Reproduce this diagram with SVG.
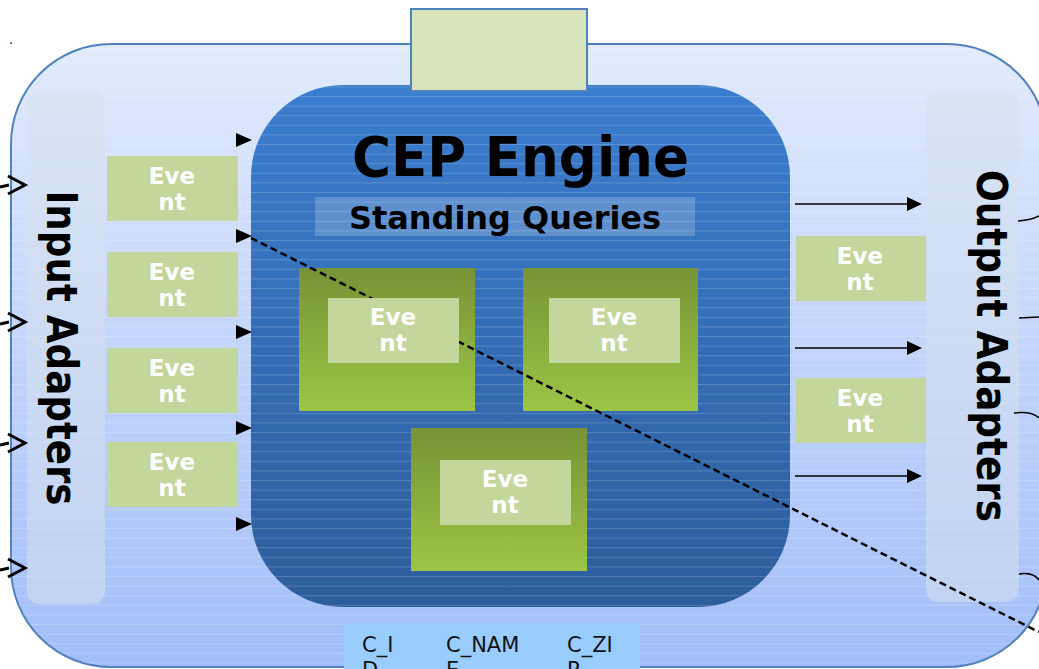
<svg xmlns="http://www.w3.org/2000/svg" width="1039" height="669" viewBox="0 0 1039 669">
<style>
.ev{fill:#c3d69b}
.evt{font-family:"DejaVu Sans","Liberation Sans",sans-serif;font-weight:bold;font-size:23px;fill:#ffffff;text-anchor:middle}
.big{font-family:"DejaVu Sans","Liberation Sans",sans-serif;font-weight:bold;fill:#000}
.tbl{font-family:"DejaVu Sans","Liberation Sans",sans-serif;font-size:21px;fill:#111}
.panel{fill:#d6e0ec;fill-opacity:0.55}
.qbox{fill:url(#gq)}
.arr{stroke:#000;stroke-width:1.5;fill:none}
.head{fill:#000}
.chev{stroke:#000;stroke-width:3;fill:none}
</style>
<defs>
<linearGradient id="gOuter" x1="0" y1="44" x2="0" y2="668" gradientUnits="userSpaceOnUse">
<stop offset="0" stop-color="#e2ebfd"/>
<stop offset="1" stop-color="#a2bef9"/>
</linearGradient>
<linearGradient id="gCep" x1="0" y1="85" x2="0" y2="607" gradientUnits="userSpaceOnUse">
<stop offset="0" stop-color="#3b7dcf"/>
<stop offset="1" stop-color="#2d5d9b"/>
</linearGradient>
<linearGradient id="gq" x1="0" y1="0" x2="0" y2="1">
<stop offset="0" stop-color="#769336"/>
<stop offset="1" stop-color="#9cc545"/>
</linearGradient>
<pattern id="stripes" patternUnits="userSpaceOnUse" width="20" height="9.6">
<rect x="0" y="0" width="20" height="1" fill="#ffffff" fill-opacity="0.18"/>
</pattern>
</defs>

<g id="outer-container">
<rect x="11" y="44" width="1036" height="623" rx="100" fill="url(#gOuter)" stroke="#4f81bd" stroke-width="2"/>
<rect x="11" y="44" width="1036" height="623" rx="100" fill="url(#stripes)"/>
<rect x="10" y="42" width="2" height="2" fill="#4f81bd"/>
</g>

<g id="input-adapters">
<rect class="panel" x="27" y="92" width="78" height="512" rx="12"/>
<text class="big" font-size="42" text-anchor="middle" textLength="315" lengthAdjust="spacingAndGlyphs" transform="translate(47,348) rotate(90)">Input Adapters</text>
</g>

<g id="output-adapters">
<rect class="panel" x="926" y="92" width="93" height="510" rx="12"/>
<text class="big" font-size="42" text-anchor="middle" textLength="352" lengthAdjust="spacingAndGlyphs" transform="translate(977,346) rotate(90)">Output Adapters</text>
</g>

<g id="cep-engine">
<rect x="251" y="85" width="539" height="522" rx="92" fill="url(#gCep)"/>
<rect x="251" y="85" width="539" height="522" rx="92" fill="url(#stripes)"/>
<text class="big" x="352" y="176" font-size="55" textLength="337" lengthAdjust="spacingAndGlyphs">CEP Engine</text>
</g>

<g id="top-box">
<rect x="411" y="9" width="176" height="82" fill="#d8e4bc" stroke="#4f81bd" stroke-width="2"/>
</g>

<g id="standing-queries">
<rect x="315" y="197" width="380" height="39" fill="#ffffff" fill-opacity="0.2"/>
<text class="big" x="349" y="229" font-size="32" textLength="312" lengthAdjust="spacingAndGlyphs">Standing Queries</text>
</g>

<g id="query-1"><rect class="qbox" x="299" y="268" width="176" height="143"/></g>
<g id="query-2"><rect class="qbox" x="523" y="268" width="175" height="143"/></g>
<g id="query-3"><rect class="qbox" x="411" y="428" width="176" height="143"/></g>

<g id="connectors">
<polygon class="head" points="236,133 252,140 236,147"/>
<polygon class="head" points="236,229 252,236 236,243"/>
<polygon class="head" points="236,325 252,332 236,339"/>
<polygon class="head" points="236,421 252,428 236,435"/>
<polygon class="head" points="236,517 252,524 236,531"/>
<path d="M251,238 L1039,632" stroke="#000" stroke-width="2.5" stroke-dasharray="7,4" fill="none"/>
<path class="arr" d="M795,204 H908"/><polygon class="head" points="907,197 922,204 907,211"/>
<path class="arr" d="M795,348 H908"/><polygon class="head" points="907,341 922,348 907,355"/>
<path class="arr" d="M795,476 H908"/><polygon class="head" points="907,469 922,476 907,483"/>
<path class="chev" d="M0,187 L9,185 M8,176 L25,185 L8,194"/>
<path class="chev" d="M0,324 L9,322 M8,313 L25,322 L8,331"/>
<path class="chev" d="M0,445 L9,443 M8,434 L25,443 L8,452"/>
<path class="chev" d="M0,570 L9,568 M8,559 L25,568 L8,577"/>
<path class="arr" d="M1018,221 Q1032,220 1039,216"/>
<path class="arr" d="M1019,318 L1039,317"/>
<path class="arr" d="M1014,413 Q1032,411 1039,418"/>
<path class="arr" d="M1019,574 Q1033,572 1039,580"/>
</g>

<g id="event-in-1"><rect class="ev" x="107" y="156" width="131" height="65"/><text class="evt" x="172" y="184">Eve</text><text class="evt" x="172" y="210">nt</text></g>
<g id="event-in-2"><rect class="ev" x="107" y="252" width="131" height="65"/><text class="evt" x="172" y="280">Eve</text><text class="evt" x="172" y="306">nt</text></g>
<g id="event-in-3"><rect class="ev" x="107" y="348" width="131" height="65"/><text class="evt" x="172" y="376">Eve</text><text class="evt" x="172" y="402">nt</text></g>
<g id="event-in-4"><rect class="ev" x="107" y="442" width="131" height="65"/><text class="evt" x="172" y="470">Eve</text><text class="evt" x="172" y="496">nt</text></g>

<g id="event-q-1"><rect class="ev" x="328" y="298" width="131" height="65"/><text class="evt" x="393" y="325">Eve</text><text class="evt" x="393" y="351">nt</text></g>
<g id="event-q-2"><rect class="ev" x="549" y="298" width="131" height="65"/><text class="evt" x="614" y="325">Eve</text><text class="evt" x="614" y="351">nt</text></g>
<g id="event-q-3"><rect class="ev" x="440" y="460" width="131" height="65"/><text class="evt" x="505" y="487">Eve</text><text class="evt" x="505" y="513">nt</text></g>

<g id="event-out-1"><rect class="ev" x="796" y="236" width="130" height="65"/><text class="evt" x="860" y="264">Eve</text><text class="evt" x="860" y="290">nt</text></g>
<g id="event-out-2"><rect class="ev" x="796" y="378" width="130" height="65"/><text class="evt" x="860" y="406">Eve</text><text class="evt" x="860" y="432">nt</text></g>

<g id="table">
<rect x="344" y="623" width="296" height="46" fill="#99ccff"/>
<text class="tbl" x="362" y="652">C_I</text><text class="tbl" x="362" y="677">D</text>
<text class="tbl" x="446" y="652">C_NAM</text><text class="tbl" x="446" y="677">E</text>
<text class="tbl" x="567" y="652">C_ZI</text><text class="tbl" x="567" y="677">P</text>
</g>
</svg>
